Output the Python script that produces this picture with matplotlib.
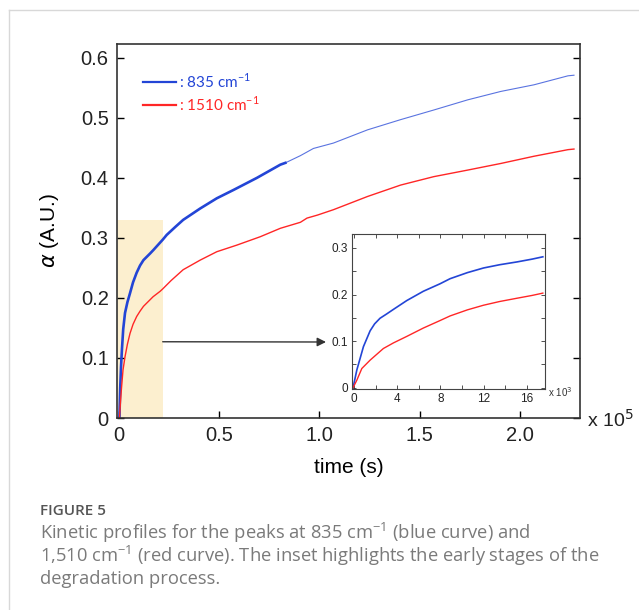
import matplotlib
matplotlib.use("Agg")
import matplotlib.pyplot as plt
import numpy as np

# main chart, time in units of 1e5 s
t_blue = [0, 0.002, 0.006, 0.010, 0.0148, 0.021, 0.03, 0.042, 0.055, 0.07, 0.088, 0.105,
          0.122, 0.14, 0.155, 0.172, 0.218, 0.238, 0.28, 0.32, 0.405, 0.488, 0.572, 0.688, 0.805, 0.83]
a_blue = [0, 0.0, 0.05, 0.085, 0.115, 0.148, 0.175, 0.193, 0.208, 0.226, 0.242, 0.254,
          0.263, 0.269, 0.274, 0.28, 0.297, 0.305, 0.318, 0.33, 0.349, 0.366, 0.38, 0.4, 0.422, 0.425]
t_blue2 = [0.83, 0.905, 0.97, 1.07, 1.24, 1.405, 1.57, 1.74, 1.905, 2.07, 2.24, 2.27]
a_blue2 = [0.425, 0.437, 0.449, 0.458, 0.48, 0.497, 0.513, 0.53, 0.544, 0.555, 0.57, 0.571]

t_red = [0, 0.002, 0.005, 0.008, 0.013, 0.02, 0.03, 0.042, 0.055, 0.07, 0.088, 0.105, 0.122,
         0.17, 0.205, 0.218, 0.26, 0.32, 0.405, 0.488, 0.588, 0.705, 0.805, 0.905, 0.938, 0.99,
         1.07, 1.24, 1.405, 1.57, 1.74, 1.905, 2.07, 2.24, 2.27]
a_red = [0, 0.0, 0.015, 0.03, 0.052, 0.08, 0.102, 0.123, 0.141, 0.156, 0.169, 0.178, 0.186,
         0.202, 0.211, 0.215, 0.229, 0.247, 0.263, 0.277, 0.288, 0.302, 0.316, 0.326, 0.333, 0.338,
         0.347, 0.369, 0.388, 0.402, 0.413, 0.424, 0.436, 0.447, 0.448]

# inset, time in units of 1e3 s
ti_blue = [-0.1, 0.25, 0.86, 1.48, 1.9, 2.4, 3.0, 3.64, 4.88, 6.42, 7.96, 8.9, 10.5, 12, 13.5, 15.1, 16.5, 17.5]
ai_blue = [0, 0.038, 0.088, 0.122, 0.137, 0.149, 0.158, 0.168, 0.187, 0.207, 0.223, 0.234, 0.247, 0.257, 0.264, 0.27, 0.276, 0.281]
ti_red = [-0.1, 0.25, 0.71, 1.48, 2.71, 3.64, 4.88, 6.42, 7.96, 8.9, 10.5, 12, 13.5, 15.1, 16.5, 17.5]
ai_red = [0, 0.016, 0.041, 0.059, 0.084, 0.096, 0.11, 0.128, 0.144, 0.154, 0.167, 0.177, 0.185, 0.192, 0.198, 0.203]

main_xticks = [0, 0.5, 1.0, 1.5, 2.0]
main_xlabels = ['0', '0.5', '1.0', '1.5', '2.0']
main_yticks = [0, 0.1, 0.2, 0.3, 0.4, 0.5, 0.6]
main_ylabels = ['0', '0.1', '0.2', '0.3', '0.4', '0.5', '0.6']
ins_xticks = [0, 4, 8, 12, 16]
ins_yticks = [0, 0.1, 0.2, 0.3]
ins_ylabels = ['0', '0.1', '0.2', '0.3']

BLUE = '#2345d6'
RED = '#ff2626'
W, H = 639, 610

fig = plt.figure(figsize=(6.39, 6.10), dpi=100)
fig.patch.set_facecolor('white')

# page frame lines
fig.add_artist(plt.Line2D([9/W, 1], [1-10/H, 1-10/H], color='#d8d8d8', lw=1))
fig.add_artist(plt.Line2D([9/W, 9/W], [0, 1-10/H], color='#d8d8d8', lw=1))

ax = fig.add_axes([117/W, 1-418/H, 463/W, 374/H])
ax.set_xlim(-0.01, 2.3)
ax.set_ylim(0, 0.623)

ax.axvspan(-0.01, 0.218, ymin=0, ymax=0.33/0.623, color='#fcefcf', lw=0, zorder=0)

ax.plot(t_blue, a_blue, color=BLUE, lw=1.9)
ax.plot(t_blue2, a_blue2, color=BLUE, lw=0.8, alpha=0.75)
ax.plot(t_red, a_red, color=RED, lw=1.0)

ax.annotate('', xy=(326/W, 1-342/H), xycoords='figure fraction',
            xytext=(0.218, 0.127), textcoords='data',
            arrowprops=dict(arrowstyle='-|>', color='#333333', lw=1.0,
                            mutation_scale=13, shrinkA=0, shrinkB=0))

ax.set_xticks(main_xticks)
ax.set_xticklabels(main_xlabels)
ax.set_yticks(main_yticks)
ax.set_yticklabels(main_ylabels)
for lab in ax.get_xticklabels() + ax.get_yticklabels():
    lab.set_fontfamily('Liberation Sans')
    lab.set_fontsize(14.5)
    lab.set_color('#222222')
ax.tick_params(direction='in', length=5, width=1, right=True, top=False, pad=6)
for s in ax.spines.values():
    s.set_linewidth(1.2)
    s.set_color('#333333')

ax.set_xlabel('time (s)', fontfamily='Liberation Sans', fontsize=15, labelpad=9)
ax.set_ylabel(r'$\alpha$ (A.U.)', fontfamily='Liberation Sans', fontsize=15, labelpad=14)
fig.text(587/W, 1-420/H, r'x 10$^5$', fontfamily='Liberation Sans', fontsize=14,
         va='center', ha='left', color='#222222')

# legend drawn by hand
fig.add_artist(plt.Line2D([143/W, 176/W], [1-82/H, 1-82/H], color=BLUE, lw=1.6))
fig.add_artist(plt.Line2D([143/W, 176/W], [1-105/H, 1-105/H], color=RED, lw=1.6))
fig.text(179/W, 1-81/H, r': 835 cm$^{\mathregular{-1}}$', color=BLUE, fontfamily='Lato',
         fontsize=11, va='center')
fig.text(179/W, 1-104/H, r': 1510 cm$^{\mathregular{-1}}$', color=RED, fontfamily='Lato',
         fontsize=11, va='center')

# inset
axi = fig.add_axes([352/W, 1-389/H, 193/W, 155/H])
axi.set_xlim(-0.2, 17.7)
axi.set_ylim(-0.003, 0.33)
axi.plot(ti_blue, ai_blue, color=BLUE, lw=1.2)
axi.plot(ti_red, ai_red, color=RED, lw=1.0)
axi.set_xticks(ins_xticks)
axi.set_yticks(ins_yticks)
axi.set_yticklabels(ins_ylabels)
axi.set_xticks(np.arange(0, 18, 2), minor=True)
axi.set_yticks(np.arange(0, 0.33, 0.05), minor=True)
axi.tick_params(which='both', direction='in', top=True, right=True, labelsize=8.5,
                length=3, width=0.6, pad=3, colors='#333333')
axi.tick_params(labelcolor='#222222')
for lab in axi.get_xticklabels() + axi.get_yticklabels():
    lab.set_fontfamily('Liberation Sans')
for s in axi.spines.values():
    s.set_linewidth(0.8)
    s.set_color('#444444')
fig.text(548/W, 1-392/H, r'x 10$^3$', fontfamily='Liberation Sans', fontsize=7,
         va='center', ha='left', color='#333333')

# caption
fig.text(40/W, 1-511/H, 'FIGURE 5', fontfamily='Open Sans', fontsize=11,
         color='#555555', va='center', fontweight='semibold')
fig.text(40/W, 1-533/H, r'Kinetic profiles for the peaks at 835 cm$^{\mathregular{-1}}$ (blue curve) and',
         fontfamily='Open Sans', fontsize=13.2, color='#7a7a7a', va='center')
fig.text(40/W, 1-556/H, r'1,510 cm$^{\mathregular{-1}}$ (red curve). The inset highlights the early stages of the',
         fontfamily='Open Sans', fontsize=13.2, color='#7a7a7a', va='center')
fig.text(40/W, 1-579/H, 'degradation process.',
         fontfamily='Open Sans', fontsize=13.2, color='#7a7a7a', va='center')

fig.savefig('out.png', dpi=100)
